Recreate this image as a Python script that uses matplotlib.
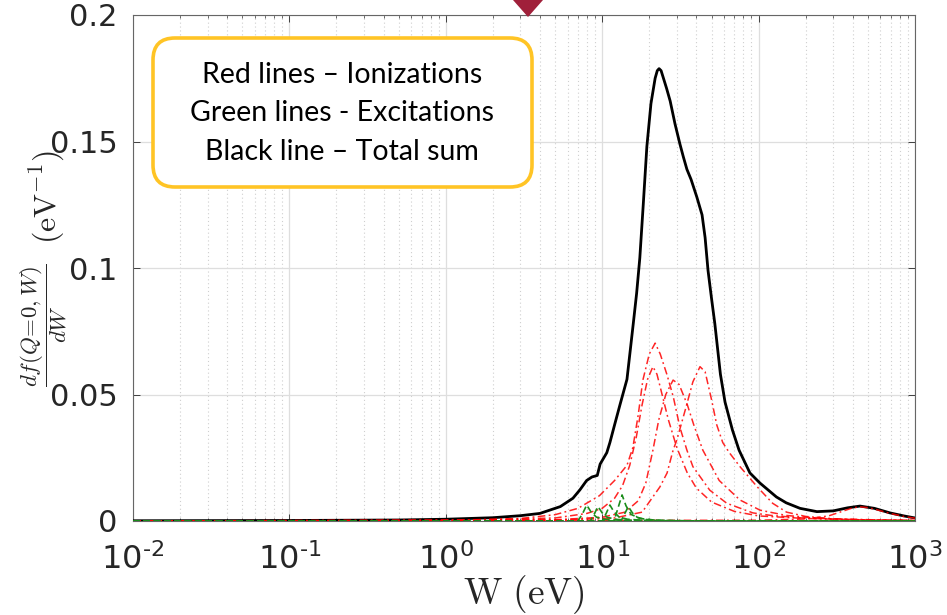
"""Dielectric response: df/dW at Q=0 split into ionization and excitation channels"""
import math
import matplotlib
matplotlib.use('Agg')
import matplotlib.pyplot as plt
import matplotlib.patches as mpatches
from matplotlib.ticker import FixedLocator, LogLocator, FuncFormatter, NullFormatter

plt.rcParams['font.family'] = ['DejaVu Sans']
plt.rcParams['mathtext.fontset'] = 'cm'
plt.rcParams['axes.unicode_minus'] = False

# ---- total (black) ----
w_total = [0.01, 0.1, 0.5, 1.0, 2.0, 3.0, 4.0, 5.4, 6.5, 7.2, 7.95, 8.6, 9.3, 9.7,
           10.7, 11.2, 12.0, 13.0, 14.4, 15.8, 16.6, 17.4, 18.3, 19.3, 20.5, 21.8,
           22.5, 23.1, 23.8, 24.5, 25.8, 27.2, 29.2, 31.4, 33.0, 34.8, 37.0, 40.3,
           43.5, 45.5, 47.5, 50.0, 52.5, 57.0, 61.0, 68.0, 75.0, 88.0, 102, 130, 150,
           184, 236, 300, 370, 445, 550, 692, 850, 1000]
f_total = [0.0001, 0.0002, 0.0004, 0.0007, 0.0013, 0.0021, 0.0030, 0.0057, 0.0090,
           0.0123, 0.0160, 0.0174, 0.0180, 0.0225, 0.0270, 0.0310, 0.0380, 0.0460,
           0.0560, 0.0780, 0.0900, 0.1040, 0.1250, 0.1480, 0.1650, 0.1750, 0.1780,
           0.1788, 0.1780, 0.1755, 0.1710, 0.1660, 0.1570, 0.1490, 0.1440, 0.1390,
           0.1350, 0.1280, 0.1210, 0.1120, 0.0990, 0.0880, 0.0780, 0.0580, 0.0470,
           0.0360, 0.0280, 0.0190, 0.0150, 0.0095, 0.0072, 0.0050, 0.0037, 0.0040,
           0.0052, 0.0059, 0.0050, 0.0032, 0.0020, 0.0012]

# ---- ionization channels (red) ----
w_ion1 = [0.01, 1, 3, 5, 7, 9.6, 12, 14.4, 15.7, 17, 18.2, 20, 21.8, 23.5, 25.9,
          28.5, 31.4, 34.8, 38, 48.7, 62.6, 92, 120, 200, 400, 1000]
f_ion1 = [0, 0.0002, 0.001, 0.0025, 0.005, 0.010, 0.016, 0.022, 0.029, 0.042,
          0.0557, 0.066, 0.0703, 0.066, 0.058, 0.049, 0.037, 0.028, 0.0215, 0.0122,
          0.007, 0.0032, 0.0022, 0.0011, 0.0005, 0.0002]

w_ion2 = [0.01, 1, 5, 8, 10, 12, 13.5, 15, 16.5, 18, 19.5, 21.1, 22.4, 23.7, 26.5,
          30, 35, 40, 50, 70, 100, 200, 500, 1000]
f_ion2 = [0, 0.0001, 0.0012, 0.003, 0.005, 0.009, 0.014, 0.022, 0.033, 0.046,
          0.056, 0.061, 0.058, 0.052, 0.040, 0.029, 0.019, 0.013, 0.0075, 0.0038,
          0.002, 0.001, 0.0004, 0.0002]

w_ion3 = [0.01, 5, 10, 14, 17, 19, 21.1, 23, 25.5, 28.4, 31, 35, 38.5, 44, 56, 76,
          102, 150, 250, 500, 1000]
f_ion3 = [0, 0.0005, 0.0015, 0.0035, 0.008, 0.015, 0.028, 0.040, 0.050, 0.0557,
          0.054, 0.046, 0.038, 0.028, 0.016, 0.0083, 0.0043, 0.0022, 0.001, 0.0004,
          0.0002]

w_ion4 = [0.01, 5, 12, 18, 23.4, 26, 28.4, 30, 34, 38, 42.2, 45.5, 50, 54, 59, 65,
          76, 98, 123, 151, 200, 300, 600, 1000]
f_ion4 = [0, 0.0003, 0.0012, 0.0035, 0.0135, 0.019, 0.028, 0.032, 0.044, 0.055,
          0.061, 0.059, 0.048, 0.038, 0.031, 0.027, 0.0215, 0.0135, 0.007, 0.0035,
          0.0018, 0.0009, 0.0004, 0.0002]

w_ion5 = [0.01, 100, 200, 280, 350, 400, 445, 500, 550, 692, 850, 1000]
f_ion5 = [0, 0.0003, 0.0008, 0.0020, 0.0040, 0.0052, 0.0056, 0.0053, 0.0047,
          0.0030, 0.0018, 0.0011]

# ---- excitation channels (green) ----
w_exc1 = [0.01, 7.0, 7.5, 7.96, 8.5, 9.2, 10.5, 14, 30, 1000]
f_exc1 = [0, 0, 0.0030, 0.0063, 0.0035, 0.0015, 0.0006, 0.0002, 0, 0]

w_exc2 = [0.01, 8.4, 8.9, 9.4, 10.0, 10.8, 12.5, 16, 30, 1000]
f_exc2 = [0, 0, 0.0028, 0.0057, 0.0032, 0.0014, 0.0006, 0.0002, 0, 0]

w_exc3 = [0.01, 10.0, 10.6, 11.2, 11.9, 12.8, 14.5, 19, 35, 1000]
f_exc3 = [0, 0, 0.0030, 0.0063, 0.0036, 0.0016, 0.0007, 0.0002, 0, 0]

w_exc4 = [0.01, 11.9, 12.6, 13.4, 14.2, 15.3, 17.5, 22, 40, 1000]
f_exc4 = [0, 0, 0.0050, 0.0103, 0.0060, 0.0026, 0.0010, 0.0003, 0, 0]

w_exc5 = [0.01, 13.2, 13.9, 14.7, 15.6, 16.8, 19.0, 24, 40, 1000]
f_exc5 = [0, 0, 0.0028, 0.0057, 0.0032, 0.0014, 0.0006, 0.0002, 0, 0]

ion_series = [(w_ion1, f_ion1), (w_ion2, f_ion2), (w_ion3, f_ion3),
              (w_ion4, f_ion4), (w_ion5, f_ion5)]
exc_series = [(w_exc1, f_exc1), (w_exc2, f_exc2), (w_exc3, f_exc3),
              (w_exc4, f_exc4), (w_exc5, f_exc5)]

x_decades = [1e-2, 1e-1, 1e0, 1e1, 1e2, 1e3]
y_ticks = [0, 0.05, 0.1, 0.15, 0.2]
legend_lines = ['Red lines \u2013 Ionizations',
                'Green lines - Excitations',
                'Black line \u2013 Total sum']


def decade_label(v, pos):
    e = round(math.log10(v))
    sgn = '\u2010' if e < 0 else ''
    return r'$\mathregular{10^{%s%d}}$' % (sgn, abs(e))


def make_plot():
    fig = plt.figure(figsize=(9.47, 6.15), dpi=100)
    fig.patch.set_facecolor('white')
    ax = fig.add_axes([133 / 947, 94 / 615, 782 / 947, 506 / 615])

    ax.set_xscale('log')
    ax.set_xlim(1e-2, 1e3)
    ax.set_ylim(0, 0.2)

    ax.plot(w_total, f_total, color='black', lw=2.0, zorder=3)
    for w, f in ion_series:
        ax.plot(w, f, color='red', lw=1.1, alpha=0.85,
                dashes=(5, 2.2, 1.2, 2.2), zorder=4)
    for w, f in exc_series:
        ax.plot(w, f, color='#1a8c1a', lw=1.2, dashes=(4, 2.2), zorder=5)

    # ticks, MATLAB-like box
    ax.xaxis.set_major_locator(FixedLocator(x_decades))
    ax.xaxis.set_minor_locator(LogLocator(base=10, subs=range(2, 10), numticks=20))
    ax.xaxis.set_minor_formatter(NullFormatter())
    ax.xaxis.set_major_formatter(FuncFormatter(decade_label))
    ax.yaxis.set_major_locator(FixedLocator(y_ticks))
    ax.yaxis.set_major_formatter(FuncFormatter(lambda v, p: '%g' % v))

    ax.tick_params(which='both', direction='in', top=True, right=True,
                   colors='#262626')
    ax.tick_params(axis='x', labelsize=23, pad=16)
    ax.tick_params(axis='y', labelsize=22, pad=11)
    ax.tick_params(which='major', length=5, width=0.6)
    ax.tick_params(which='minor', length=2.5, width=0.5)
    for s in ax.spines.values():
        s.set_color('#666666')
        s.set_linewidth(0.8)

    ax.grid(which='major', color='#dedede', lw=0.9, ls='-', zorder=0)
    ax.grid(which='minor', axis='x', color='#cfcfcf', lw=0.8, ls=(0, (1, 2.5)), zorder=0)
    ax.set_axisbelow(True)

    ax.set_xlabel(r'$\mathrm{W\ (eV)}$', fontsize=27, color='#262626', labelpad=-2)

    # y label: fraction and unit set as two rotated pieces
    fig.text(44 / 947, 1 - 325 / 615, r'$\dfrac{df(Q\!=\!0,W)}{dW}$', rotation=90,
             ha='center', va='center', fontsize=16.5, color='#262626')
    fig.text(47 / 947, 1 - 197 / 615, r'$(\mathrm{eV}^{-1})$', rotation=90,
             ha='center', va='center', fontsize=23, color='#262626')

    # annotation box in the top-left corner
    box = mpatches.FancyBboxPatch((1.53, 4.28), 3.79, 1.49,
                                  boxstyle='round,pad=0,rounding_size=0.22',
                                  facecolor='white', edgecolor='#FFC425', linewidth=2.6,
                                  transform=fig.dpi_scale_trans, zorder=10)
    fig.add_artist(box)
    for i, line in enumerate(legend_lines):
        fig.text(3.42 / 9.47, (5.40 - i * 0.385) / 6.15, line, ha='center', va='center',
                 fontsize=20.5, family='Lato', color='black', zorder=11)

    # marker above the axes
    tri = mpatches.Polygon([(513 / 947, 1.0), (543 / 947, 1.0), (528 / 947, 598 / 615)],
                           closed=True, facecolor='#A0203A', edgecolor='none',
                           transform=fig.transFigure, zorder=12)
    fig.add_artist(tri)

    fig.savefig('out.png', dpi=100, facecolor='white')
    plt.close(fig)


if __name__ == '__main__':
    make_plot()
